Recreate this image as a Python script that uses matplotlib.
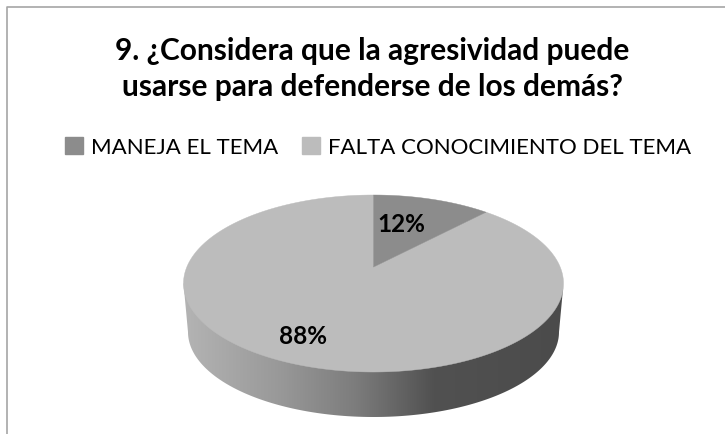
import numpy as np
import matplotlib
matplotlib.use("Agg")
import matplotlib.pyplot as plt
from matplotlib.patches import Patch, Polygon
from matplotlib.colors import LinearSegmentedColormap

plt.rcParams['font.family'] = ['Lato', 'DejaVu Sans']

title = "9. ¿Considera que la agresividad puede\nusarse para defenderse de los demás?"
categories = ["MANEJA EL TEMA", "FALTA CONOCIMIENTO DEL TEMA"]
values = [12, 88]
colors = ["#8c8c8c", "#bcbcbc"]
label_pos = [(401, 225), (303, 337)]

# pie geometry in image pixels
cx, cy, rx, ry = 373.5, 284.5, 190, 88.5
bx, by, brx, bry = 373.5, 333, 185.5, 85
tilt = 0.186  # where the pie centre lands in the perspective view


def project(a):
    # clockwise angle from 12 o'clock, moved by the perspective of the 3d pie
    u, v = np.sin(a), np.cos(a)
    d = 1 + tilt * v
    return cx + rx * u * np.sqrt(1 - tilt**2) / d, cy - ry * (v + tilt) / d


fig = plt.figure(figsize=(7.25, 4.35), dpi=100)
ax = fig.add_axes([0, 0, 1, 1])

# frame only shows on top and left
ax.plot([7, 7, 725], [435, 8, 8], color="#a6a6a6", lw=1.2)

# side of the pie, gradient clipped to the outline
t = np.linspace(0, np.pi, 200)
outline = np.r_[[[cx - rx, cy]], np.c_[bx - brx * np.cos(t), by + bry * np.sin(t)], [[cx + rx, cy]]]
side = Polygon(outline, closed=True, fc="none", ec="none")
ax.add_patch(side)
cmap = LinearSegmentedColormap.from_list("side", [(0, "#b4b4b4"), (0.25, "#999999"), (0.45, "#7d7d7d"),
                                                  (0.66, "#515151"), (1, "#4b4b4b")])
im = ax.imshow(np.linspace(0, 1, 256)[None, :], cmap=cmap, vmin=0, vmax=1, aspect="auto",
               extent=(cx - rx, cx + rx, 425, cy), zorder=1)
im.set_clip_path(side)

ax.set_xlim(0, 725)
ax.set_ylim(435, 0)
ax.axis("off")

# top face, one slice per value
edges = np.r_[0, np.cumsum(values)] / np.sum(values) * 2 * np.pi
for i in [1, 0]:
    x, y = project(np.linspace(edges[i], edges[i + 1], 300))
    ax.add_patch(Polygon(np.r_[[[cx, cy - ry * tilt]], np.c_[x, y]], closed=True,
                         fc=colors[i], ec=colors[i], lw=0.3, zorder=2))

for v, (lx, ly) in zip(values, label_pos):
    ax.text(lx, ly, f"{v}%", ha="center", va="center", fontsize=17.5, fontweight="bold", color="black", zorder=3)

ax.text(372, 69, title, ha="center", va="center", fontsize=21.5, fontweight="bold", color="black", linespacing=1.36)

handles = [Patch(fc=c, ec=c) for c in colors]
ax.legend(handles, categories, loc="center", bbox_to_anchor=(378 / 725, 1 - 148 / 435), ncol=2, frameon=False,
          fontsize=16, handlelength=0.8, handleheight=0.8, handletextpad=0.35, columnspacing=1.1, labelcolor="black")

fig.savefig("out.png", dpi=100)
